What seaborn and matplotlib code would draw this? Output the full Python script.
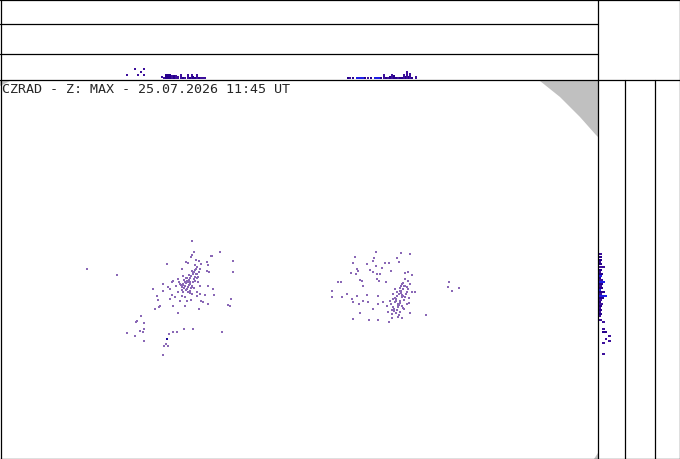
import matplotlib
matplotlib.use('Agg')
import matplotlib.pyplot as plt
import seaborn as sns
import pandas as pd

# echo pixels of the MAX product, in map pixel coordinates (x right, y down)
echo_x = [192, 194, 192, 191, 211, 212, 220, 167, 186, 188, 196, 199, 201, 207, 233, 208,
          192, 193, 194, 182, 207, 209, 233, 183, 195, 197, 198, 173, 172, 178, 187, 188,
          190, 193, 195, 183, 185, 163, 168, 170, 182, 187, 191, 200, 208, 153, 163, 178,
          183, 188, 197, 213, 157, 172, 175, 182, 185, 192, 197, 200, 205, 214, 158, 170,
          180, 187, 191, 201, 203, 231, 208, 160, 159, 173, 185, 199, 155, 228, 230, 178,
          141, 137, 136, 144, 127, 135, 140, 143, 144, 173, 177, 184, 193, 222, 169, 144,
          166, 168, 164, 163, 189, 190, 186, 189, 194, 196, 198, 192, 190, 186, 184, 181,
          196, 197, 195, 193, 191, 189, 187, 185, 183, 188, 190, 192, 194, 186, 184, 180,
          179, 176, 199, 200, 197, 195, 182, 190,
          87, 117,
          376, 401, 410, 374, 373, 355, 397, 399, 353, 367, 376, 385, 389, 357, 358, 370,
          373, 382, 391, 351, 377, 380, 356, 405, 408, 412, 360, 362, 377, 379, 386, 405,
          408, 338, 341, 402, 410, 363, 448, 452, 449, 332, 395, 400, 403, 407, 412, 415,
          347, 342, 357, 367, 378, 393, 397, 402, 405, 409, 332, 352, 353, 363, 368, 383,
          390, 395, 400, 407, 359, 378, 387, 393, 398, 403, 373, 388, 392, 400, 410, 360,
          426, 398, 402, 392, 353, 369, 378, 389, 396, 398, 400, 402, 404, 397, 401, 399,
          394, 396, 459,
          403, 405, 401, 399, 397, 395, 404, 406, 400, 398, 396, 394, 402, 404, 399, 392,
          407, 403, 401, 393, 391, 409, 408, 396]
echo_y = [242, 253, 256, 258, 257, 257, 253, 265, 263, 264, 261, 262, 265, 263, 262, 266,
          272, 273, 273, 270, 272, 273, 273, 277, 278, 279, 278, 282, 283, 280, 282, 283,
          283, 283, 282, 285, 287, 285, 288, 290, 288, 290, 289, 287, 287, 290, 292, 293,
          293, 293, 293, 290, 297, 296, 298, 297, 298, 295, 297, 295, 296, 296, 301, 300,
          302, 302, 301, 302, 303, 300, 305, 307, 308, 307, 307, 310, 310, 306, 307, 314,
          317, 322, 323, 324, 334, 337, 332, 333, 330, 333, 333, 330, 330, 333, 335, 342,
          345, 347, 347, 356, 276, 279, 284, 286, 280, 275, 283, 288, 292, 279, 281, 286,
          270, 268, 266, 275, 277, 281, 279, 283, 286, 288, 285, 287, 289, 291, 289, 285,
          283, 287, 273, 270, 275, 271, 291, 294,
          270, 276,
          253, 254, 255, 259, 262, 258, 259, 263, 264, 265, 267, 264, 264, 270, 272, 271,
          273, 269, 272, 274, 275, 275, 275, 274, 273, 276, 281, 282, 280, 282, 283, 280,
          282, 283, 283, 285, 285, 287, 288, 292, 283, 292, 290, 289, 290, 293, 293, 293,
          295, 298, 297, 296, 297, 295, 297, 296, 298, 299, 298, 300, 303, 302, 303, 303,
          302, 303, 302, 305, 305, 305, 307, 308, 308, 309, 310, 313, 315, 313, 314, 314,
          316, 318, 319, 319, 320, 321, 321, 323, 300, 305, 292, 298, 287, 311, 294, 306,
          310, 300, 289,
          284, 287, 292, 295, 293, 299, 301, 295, 304, 306, 302, 312, 307, 310, 316, 311,
          288, 297, 287, 300, 305, 304, 290, 314]
echo_dark = [(167, 340)]

# top strip: x position, lower / upper height of the echo (px above base)
top_x = [127, 135, 138, 141, 144, 144, 162, 164, 166, 168, 170, 172, 174, 176, 178, 181,
         183, 185, 188, 190, 192, 193, 195, 197, 199, 201, 203, 205,
         348, 350, 353, 357, 359, 361, 363, 365, 368, 371, 375, 377, 379, 381, 384, 386,
         388, 390, 392, 394, 396, 398, 400, 402, 404, 406, 407, 409, 410, 412, 416]
top_lo = [4, 10, 4, 7, 10, 4, 2, 1, 1, 1, 1, 1, 1, 1, 1, 1,
          1, 1, 1, 1, 1, 1, 1, 1, 1, 1, 1, 1,
          1, 1, 1, 1, 1, 1, 1, 1, 1, 1, 1, 1, 1, 1, 1, 1,
          1, 1, 1, 1, 1, 1, 1, 1, 1, 1, 1, 1, 1, 1, 1]
top_hi = [6, 12, 6, 9, 12, 6, 4, 3, 6, 6, 6, 5, 5, 5, 4, 6,
          3, 3, 6, 3, 6, 4, 3, 6, 3, 3, 3, 3,
          3, 3, 3, 3, 3, 3, 3, 3, 3, 3, 3, 3, 3, 3, 6, 3,
          3, 4, 6, 5, 3, 3, 3, 3, 6, 4, 9, 4, 7, 3, 4]
top_c = ['p', 'p', 'p', 'p', 'p', 'p', 'p', 'p', 'n', 'n', 'n', 'p', 'n', 'p', 'p', 'p',
         'n', 'p', 'p', 'n', 'p', 'n', 'n', 'p', 'n', 'p', 'p', 'p',
         'n', 'p', 'n', 'b', 'b', 'b', 'b', 'n', 'p', 'n', 'b', 'b', 'b', 'n', 'p', 'n',
         'p', 'n', 'p', 'n', 'n', 'p', 'n', 'n', 'p', 'n', 'p', 'n', 'p', 'n', 'p']

# right strip: y position, lower / upper height of the echo (px right of base)
side_y = [255, 258, 261, 263, 265, 268, 271, 273, 275, 277, 279, 281, 283, 285, 287, 289,
          291, 293, 295, 297, 299, 301, 303, 305, 307, 309, 311, 313, 315, 317,
          321, 323, 330, 333, 337, 340, 342, 344, 355]
side_lo = [0, 0, 0, 0, 0, 0, 0, 0, 0, 0, 0, 0, 0, 0, 0, 0,
           0, 0, 0, 0, 0, 0, 0, 0, 0, 0, 0, 0, 0, 0,
           0, 4, 4, 4, 10, 7, 10, 4, 4]
side_hi = [4, 4, 4, 3, 4, 7, 4, 3, 5, 4, 3, 5, 7, 5, 4, 5,
           3, 7, 4, 9, 6, 4, 3, 5, 4, 3, 4, 3, 4, 3,
           4, 7, 7, 9, 13, 9, 13, 7, 7]
side_c = ['p', 'n', 'n', 'p', 'n', 'p', 'n', 'p', 'n', 'b', 'n', 'p', 'b', 'n', 'p', 'n',
          'b', 'n', 'p', 'b', 'n', 'p', 'n', 'p', 'n', 'p', 'n', 'p', 'n', 'p',
          'p', 'p', 'p', 'n', 'p', 'p', 'p', 'p', 'p']

# outside radar coverage (upper right corner of the map)
edge_x = [540, 560, 580, 596, 598]
edge_y = [82, 98, 118, 136, 138]

colors = {'p': '#3c0f9b', 'n': '#26008c', 'b': '#1e1ee6'}
title = 'CZRAD - Z: MAX - 25.07.2026 11:45 UT'

W, H = 680, 460
MX, MY = 598, 81

sns.set_style('white')
fig = plt.figure(figsize=(6.8, 4.6), dpi=100)

# main map
ax = fig.add_axes([0, 0, MX / W, (H - MY) / H])
ax.fill(edge_x + [598, 540], edge_y + [81, 81], color='#c0c0c0', lw=0)
ax.fill([0, 12, 0], [81, 81, 87], color='#c0c0c0', lw=0)
ax.fill([598, 598, 594], [454, 460, 460], color='#c0c0c0', lw=0)
df = pd.DataFrame({'x': echo_x, 'y': echo_y})
sns.scatterplot(data=df, x='x', y='y', marker='s', s=4, color='#8a68b6',
                linewidth=0, ax=ax)
ax.scatter([p[0] for p in echo_dark], [p[1] for p in echo_dark], marker='s',
           s=4, color='#1a0a9a', lw=0)
ax.set_xlim(0, MX)
ax.set_ylim(H, MY)
ax.text(2, 83, title, family='DejaVu Sans Mono', fontsize=9.6, va='top', ha='left')
ax.set_axis_off()

# top strip (x - height projection)
ax_top = fig.add_axes([0, (H - MY) / H, MX / W, 26 / H])
ax_top.bar(top_x, [h - l for h, l in zip(top_hi, top_lo)], bottom=top_lo,
           width=1.6, color=[colors[c] for c in top_c], lw=0)
ax_top.set_xlim(0, MX)
ax_top.set_ylim(0, 26)
ax_top.set_axis_off()

# right strip (height - y projection)
ax_side = fig.add_axes([MX / W, 0, 27 / W, (H - MY) / H])
ax_side.barh(side_y, [h - l for h, l in zip(side_hi, side_lo)], left=side_lo,
             height=1.6, color=[colors[c] for c in side_c], lw=0)
ax_side.set_xlim(0, 27)
ax_side.set_ylim(H, MY)
ax_side.set_axis_off()

# frame lines
frame = fig.add_axes([0, 0, 1, 1], facecolor='none')
frame.set_xlim(0, W)
frame.set_ylim(H, 0)
lw = 0.9
for yy in [25, 55]:
    frame.plot([0, MX], [yy, yy], color='black', lw=lw)
frame.plot([0, W], [81, 81], color='black', lw=lw)
frame.plot([0, W], [0.5, 0.5], color='black', lw=lw)
frame.plot([0, W], [H - 0.5, H - 0.5], color='black', lw=lw)
frame.plot([0.5, 0.5], [0, H], color='black', lw=lw)
frame.plot([W - 0.5, W - 0.5], [0, H], color='black', lw=lw)
frame.plot([MX, MX], [0, H], color='black', lw=lw)
for xx in [625, 655]:
    frame.plot([xx, xx], [81, H], color='black', lw=lw)
frame.set_axis_off()

fig.savefig('out.png', dpi=100)
